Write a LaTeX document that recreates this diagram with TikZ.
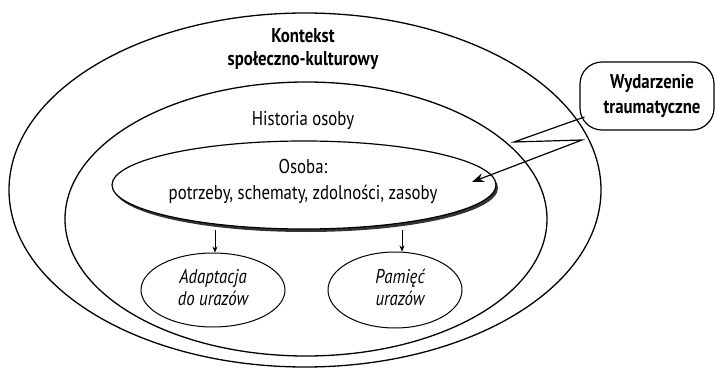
\documentclass[tikz,border=0pt]{standalone}
\usepackage{fontspec}
\setmainfont{PT Sans}[FakeStretch=0.84]
\usetikzlibrary{arrows.meta,calc,shapes.geometric}
\begin{document}
\begin{tikzpicture}[x=1pt,y=-1pt,
  ring/.style={draw,line width=1.3pt},
  lbl/.style={font=\fontsize{20}{25}\selectfont,inner sep=0pt,anchor=base},
  blbl/.style={lbl,font=\fontsize{20}{25}\selectfont\bfseries},
  ilbl/.style={lbl,font=\fontsize{20}{25}\selectfont\itshape},
  small/.style={draw,line width=1pt,fill=white,ellipse,minimum width=144pt,minimum height=74pt,inner sep=0pt},
  down/.style={-{Stealth[length=6pt,width=5pt]},line width=0.7pt},
]
\useasboundingbox (0,0) rectangle (716,372);
% outer context
\draw[ring] (305,190) ellipse [x radius=296, y radius=177];
% history
\draw[ring] (306,219) ellipse [x radius=241, y radius=137];
% person with shadow
\fill[black!80] (306,188) ellipse [x radius=192, y radius=44];
\node[draw,line width=1.2pt,fill=white,ellipse,minimum width=384pt,minimum height=88pt,inner sep=0pt] (per) at (304,185) {};
\node[lbl] (osoba) at (303,173) {Osoba:};
\node[lbl] (potrz) at (303,199) {potrzeby, schematy, zdolności, zasoby};
% labels
\node[blbl] (ctx1) at (303,42) {Kontekst};
\node[blbl] (ctx2) at (303,65) {społeczno-kulturowy};
\node[lbl] (hist) at (303,125) {Historia osoby};
% small ellipses
\node[small] (ad) at (213,290) {};
\node[small,minimum width=134pt,minimum height=76pt] (pm) at (395,290) {};
\node[ilbl] (ad1) at (213,283) {Adaptacja};
\node[ilbl] (ad2) at (213,305) {do urazów};
\node[ilbl] (pm1) at (400,283) {Pamięć};
\node[ilbl] (pm2) at (400,305) {urazów};
\draw[down] (per.south -| ad) ++(2,0) coordinate (a1) -- (a1 |- ad.north);
\draw[down] (per.south -| pm) ++(7,0) coordinate (b1) -- (b1 |- pm.north);
% event
\node[draw,line width=1.2pt,rounded corners=22pt,minimum width=134pt,minimum height=68pt,inner sep=0pt,fill=white] (ev) at (647,96) {};
\node[blbl] (ev1) at (652,88) {Wydarzenie};
\node[blbl] (ev2) at (652,113) {traumatyczne};
\coordinate (z1) at (514,142);
\coordinate (z2) at (582,140);
\coordinate (tip) at (472,182);
\draw[line width=1.2pt,-{Stealth[length=12pt,width=9pt]}] ($(ev.west)+(5,21)$) -- (z1) -- (z2) -- (tip);
\end{tikzpicture}
\end{document}
